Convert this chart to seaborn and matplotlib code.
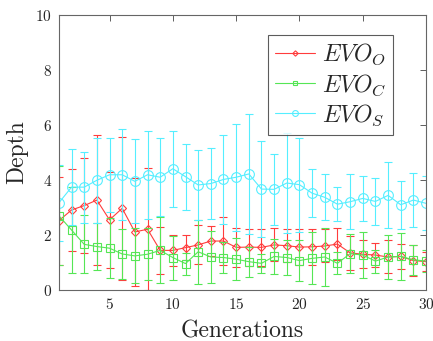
import numpy as np
import pandas as pd
import matplotlib
matplotlib.use("Agg")
import matplotlib.pyplot as plt
import seaborn as sns

# Values
generations = list(range(1, 31))

evo_o_mean = [2.52, 2.91, 3.07, 3.27, 2.55, 2.97, 2.11, 2.21, 1.44, 1.44,
              1.54, 1.64, 1.78, 1.78, 1.55, 1.56, 1.55, 1.64, 1.61, 1.56,
              1.57, 1.60, 1.67, 1.35, 1.30, 1.27, 1.20, 1.22, 1.07, 1.03]
evo_o_err = [1.60, 1.50, 1.72, 2.35, 1.75, 2.60, 1.95, 2.21, 0.85, 0.55,
             0.46, 0.71, 0.55, 0.88, 0.70, 0.67, 0.67, 0.60, 0.60, 0.65,
             0.65, 0.60, 0.57, 0.63, 0.50, 0.45, 0.60, 0.45, 0.56, 0.35]

evo_c_mean = [2.70, 2.18, 1.66, 1.58, 1.52, 1.31, 1.24, 1.30, 1.44, 1.18,
              0.96, 1.39, 1.20, 1.18, 1.12, 1.03, 0.97, 1.22, 1.18, 1.07,
              1.15, 1.20, 0.97, 1.32, 1.27, 1.05, 1.20, 1.22, 1.10, 1.05]
evo_c_err = [1.80, 1.55, 1.05, 0.87, 1.10, 0.90, 1.00, 0.94, 1.20, 0.80,
             0.40, 1.16, 0.95, 0.55, 0.76, 0.55, 0.35, 0.63, 0.62, 0.75,
             0.95, 1.05, 0.40, 0.72, 0.85, 0.42, 0.80, 0.86, 0.55, 0.40]

evo_s_mean = [3.17, 3.74, 3.74, 3.99, 4.19, 4.19, 3.95, 4.19, 4.10, 4.41,
              4.12, 3.82, 3.87, 4.02, 4.10, 4.22, 3.67, 3.66, 3.89, 3.83,
              3.52, 3.37, 3.12, 3.21, 3.33, 3.22, 3.44, 3.10, 3.27, 3.15]
evo_s_err = [1.38, 1.39, 1.29, 1.55, 1.35, 1.66, 1.53, 1.60, 1.41, 1.38,
             1.20, 1.26, 1.28, 1.62, 1.94, 2.17, 1.76, 1.29, 1.81, 1.71,
             0.87, 0.84, 0.61, 1.00, 0.83, 0.86, 1.20, 0.87, 0.97, 0.98]

series = [
    ("$EVO_O$", evo_o_mean, evo_o_err, "#ff3c3c", "D", 4.5),
    ("$EVO_C$", evo_c_mean, evo_c_err, "#55e655", "s", 5.5),
    ("$EVO_S$", evo_s_mean, evo_s_err, "#55eeff", "o", 7),
]

sns.set_style("white")
plt.rcParams["font.family"] = ["cmr10", "DejaVu Serif"]
plt.rcParams["mathtext.fontset"] = "cm"
plt.rcParams["axes.formatter.use_mathtext"] = True

fig = plt.figure(figsize=(4.33, 3.41), dpi=100)
ax = fig.add_axes([0.136, 0.1496, 0.848, 0.8064])

for label, mean, err, color, marker, ms in series:
    df = pd.DataFrame({"gen": generations, "depth": mean})
    ax.errorbar(df["gen"], df["depth"], yerr=err, fmt="none", ecolor=color,
                elinewidth=0.8, capsize=3, capthick=0.8)
    sns.lineplot(data=df, x="gen", y="depth", ax=ax, color=color, lw=0.8,
                 marker=marker, markersize=ms, markerfacecolor="none",
                 markeredgecolor=color, markeredgewidth=0.8, label=label)

ax.set_xlim(1, 30)
ax.set_ylim(0, 10)
ax.set_xticks([5, 10, 15, 20, 25, 30])
ax.set_yticks([0, 2, 4, 6, 8, 10])
ax.tick_params(direction="in", length=4, width=0.6, color="#444444",
               labelsize=11, top=True, right=True, pad=5)
for sp in ax.spines.values():
    sp.set_color("#666666")
    sp.set_linewidth(0.8)

ax.set_xlabel("Generations", fontsize=17, labelpad=6)
ax.set_ylabel("Depth", fontsize=17, labelpad=5)

leg = ax.legend(loc="upper right", bbox_to_anchor=(0.91, 0.927),
                borderaxespad=0, fontsize=17, frameon=True, fancybox=False,
                handlelength=1.7, handletextpad=0.3, borderpad=0.3,
                labelspacing=0.2, markerscale=0.6)
leg.get_frame().set_edgecolor("#333333")
leg.get_frame().set_linewidth(0.8)

fig.savefig("out.png", dpi=100)
